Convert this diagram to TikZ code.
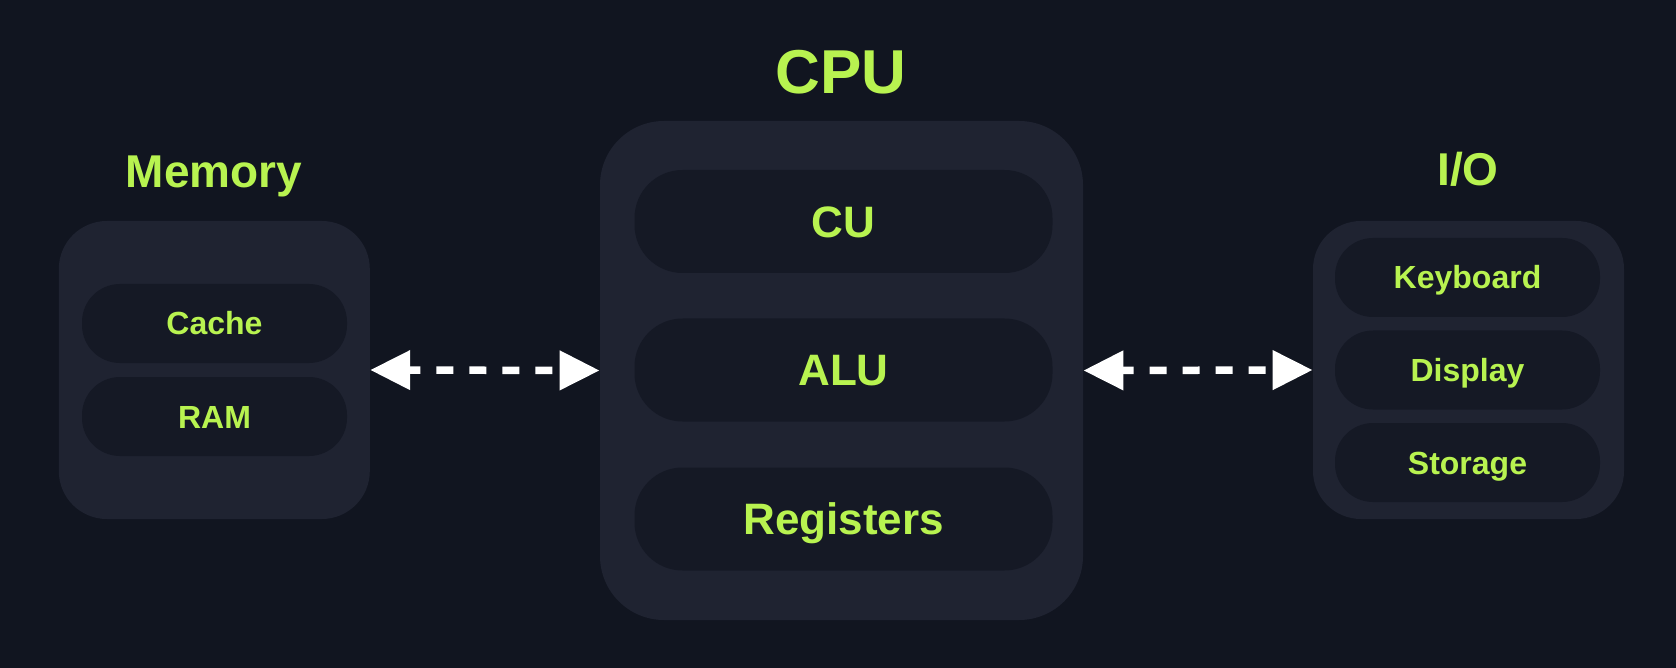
\documentclass[tikz,border=0pt]{standalone}
\usepackage{fontspec}
\setmainfont{Liberation Sans}
\usetikzlibrary{arrows.meta}
\definecolor{bg}{RGB}{17,21,32}
\definecolor{boxfill}{RGB}{31,35,49}
\definecolor{pillfill}{RGB}{21,25,37}
\definecolor{lime}{RGB}{184,243,80}
\begin{document}
\begin{tikzpicture}[x=0.5pt,y=-0.5pt,
  group/.style={fill=boxfill, rounded corners=24pt, minimum width=155.5pt, minimum height=149pt, inner sep=0pt},
  cpugroup/.style={fill=boxfill, rounded corners=32pt, minimum width=241.5pt, minimum height=249.5pt, inner sep=0pt},
  bigpill/.style={fill=pillfill, rounded corners=24pt, minimum width=209pt, minimum height=51.5pt, inner sep=0pt,
    text=lime, font=\bfseries\fontsize{22}{26}\selectfont, text height=15.75pt, text depth=0pt},
  smallpill/.style={fill=pillfill, rounded corners=19pt, minimum width=132.5pt, minimum height=39.5pt, inner sep=0pt,
    text=lime, font=\bfseries\fontsize{16}{19}\selectfont, text height=11.5pt, text depth=0pt},
  bigtitle/.style={text=lime, font=\bfseries\fontsize{31}{36}\selectfont, anchor=base, inner sep=0pt},
  title/.style={text=lime, font=\bfseries\fontsize{23}{27}\selectfont, anchor=base, inner sep=0pt},
  conn/.style={white, line width=3.75pt, dash pattern=on 8.5pt off 8pt, dash phase=2.5pt,
    {Triangle[length=20pt,width=19pt]}-{Triangle[length=20pt,width=19pt]}}
]
\fill[bg] (0,0) rectangle (1676,668);
\useasboundingbox (0,0) rectangle (1676,668);

% Memory
\node[title] (memtitle) at (214,188) {Memory};
\node[group] (mem) at (214.3,370) {};
\node[smallpill] (cache) at (214.5,323.5) {Cache};
\node[smallpill] (ram) at (214.5,416.5) {RAM};

% CPU
\node[bigtitle] (cputitle) at (841,94) {CPU};
\node[cpugroup] (cpu) at (841.5,370.5) {};
\node[bigpill] (cu) at (843.5,221.5) {CU};
\node[bigpill] (alu) at (843.5,370) {ALU};
\node[bigpill] (reg) at (843.5,519) {Registers};

% I/O
\node[title] (iotitle) at (1468,186) {I/O};
\node[group] (io) at (1468.5,370) {};
\node[smallpill] (kb) at (1467.5,277.5) {Keyboard};
\node[smallpill] (disp) at (1467.5,370) {Display};
\node[smallpill] (stor) at (1467.5,462.5) {Storage};

% connectors
\draw[conn] (mem.east) -- (cpu.west);
\draw[conn] (cpu.east) -- (io.west);
\end{tikzpicture}
\end{document}
